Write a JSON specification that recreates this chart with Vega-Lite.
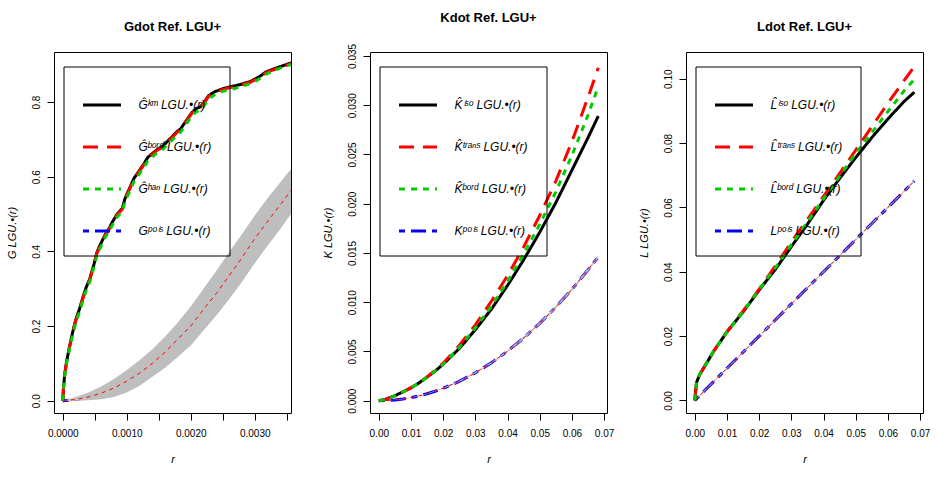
{
  "$schema": "https://vega.github.io/schema/vega-lite/v6.json",
  "padding": {"left": 5, "top": 11, "right": 5, "bottom": 5},
  "config": {
    "font": "Liberation Sans",
    "view": {"stroke": "#000000", "strokeWidth": 1},
    "axis": {"domain": false, "grid": false, "ticks": true, "tickSize": 7, "tickColor": "#000000", "tickWidth": 1,
      "labelFont": "Liberation Sans", "labelFontSize": 10, "labelColor": "#000000", "labelOverlap": false, "labelBound": false, "labelFlush": false,
      "titleFont": "Liberation Sans", "titleFontSize": 11, "titleFontWeight": "normal", "titleFontStyle": "italic", "titleColor": "#000000"},
    "axisX": {"labelPadding": 8, "titlePadding": 15, "labelAngle": 0},
    "axisY": {"labelAngle": -90, "labelAlign": "center", "labelBaseline": "bottom", "labelPadding": 6, "titlePadding": 14},
    "title": {"fontSize": 13, "fontWeight": "bold", "font": "Liberation Sans", "offset": 18, "anchor": "middle", "color": "#000000"},
    "legend": {"strokeColor": "#000000", "strokeWidth": 1, "padding": 18, "symbolType": "stroke", "symbolSize": 1444, "symbolStrokeWidth": 3,
      "rowPadding": 15, "labelOffset": 16, "labelFont": "Liberation Sans", "labelFontSize": 12, "labelFontStyle": "italic", "labelColor": "#000000", "labelLimit": 300, "symbolOpacity": 1, "cornerRadius": 0}
  },
  "datasets": {
    "g_obs": [
      {"r": 0, "km": 0, "bord": 0, "han": 0},
      {"r": 0.00001, "km": 0.03, "bord": 0.03, "han": 0.028},
      {"r": 0.00003, "km": 0.07, "bord": 0.069, "han": 0.066},
      {"r": 0.00006, "km": 0.105, "bord": 0.104, "han": 0.1},
      {"r": 0.0001, "km": 0.14, "bord": 0.139, "han": 0.134},
      {"r": 0.00015, "km": 0.18, "bord": 0.179, "han": 0.173},
      {"r": 0.0002, "km": 0.215, "bord": 0.213, "han": 0.207},
      {"r": 0.00026, "km": 0.245, "bord": 0.243, "han": 0.237},
      {"r": 0.00033, "km": 0.285, "bord": 0.283, "han": 0.277},
      {"r": 0.00038, "km": 0.31, "bord": 0.308, "han": 0.302},
      {"r": 0.00042, "km": 0.325, "bord": 0.323, "han": 0.317},
      {"r": 0.00049, "km": 0.367, "bord": 0.365, "han": 0.359},
      {"r": 0.00053, "km": 0.395, "bord": 0.393, "han": 0.387},
      {"r": 0.00057, "km": 0.412, "bord": 0.41, "han": 0.404},
      {"r": 0.00062, "km": 0.43, "bord": 0.428, "han": 0.422},
      {"r": 0.00067, "km": 0.447, "bord": 0.445, "han": 0.439},
      {"r": 0.00072, "km": 0.46, "bord": 0.458, "han": 0.452},
      {"r": 0.00078, "km": 0.48, "bord": 0.478, "han": 0.472},
      {"r": 0.00085, "km": 0.5, "bord": 0.498, "han": 0.492},
      {"r": 0.00093, "km": 0.515, "bord": 0.513, "han": 0.507},
      {"r": 0.00097, "km": 0.54, "bord": 0.538, "han": 0.531},
      {"r": 0.00101, "km": 0.556, "bord": 0.554, "han": 0.547},
      {"r": 0.00106, "km": 0.575, "bord": 0.573, "han": 0.566},
      {"r": 0.00111, "km": 0.595, "bord": 0.593, "han": 0.586},
      {"r": 0.00118, "km": 0.612, "bord": 0.61, "han": 0.603},
      {"r": 0.00127, "km": 0.635, "bord": 0.633, "han": 0.626},
      {"r": 0.00133, "km": 0.652, "bord": 0.65, "han": 0.643},
      {"r": 0.0014, "km": 0.662, "bord": 0.66, "han": 0.653},
      {"r": 0.00147, "km": 0.672, "bord": 0.67, "han": 0.663},
      {"r": 0.00155, "km": 0.68, "bord": 0.678, "han": 0.671},
      {"r": 0.00162, "km": 0.692, "bord": 0.69, "han": 0.683},
      {"r": 0.00171, "km": 0.707, "bord": 0.705, "han": 0.698},
      {"r": 0.00178, "km": 0.72, "bord": 0.718, "han": 0.711},
      {"r": 0.00184, "km": 0.728, "bord": 0.726, "han": 0.719},
      {"r": 0.00193, "km": 0.75, "bord": 0.748, "han": 0.741},
      {"r": 0.00202, "km": 0.772, "bord": 0.77, "han": 0.763},
      {"r": 0.00208, "km": 0.782, "bord": 0.78, "han": 0.773},
      {"r": 0.00215, "km": 0.787, "bord": 0.785, "han": 0.778},
      {"r": 0.0022, "km": 0.797, "bord": 0.795, "han": 0.788},
      {"r": 0.00228, "km": 0.817, "bord": 0.815, "han": 0.808},
      {"r": 0.00238, "km": 0.828, "bord": 0.826, "han": 0.82},
      {"r": 0.00249, "km": 0.835, "bord": 0.833, "han": 0.828},
      {"r": 0.0026, "km": 0.84, "bord": 0.838, "han": 0.833},
      {"r": 0.0027, "km": 0.844, "bord": 0.842, "han": 0.837},
      {"r": 0.00278, "km": 0.847, "bord": 0.845, "han": 0.841},
      {"r": 0.00285, "km": 0.851, "bord": 0.849, "han": 0.845},
      {"r": 0.00293, "km": 0.855, "bord": 0.853, "han": 0.849},
      {"r": 0.00301, "km": 0.862, "bord": 0.86, "han": 0.856},
      {"r": 0.00309, "km": 0.87, "bord": 0.868, "han": 0.864},
      {"r": 0.00317, "km": 0.88, "bord": 0.878, "han": 0.874},
      {"r": 0.00327, "km": 0.887, "bord": 0.885, "han": 0.882},
      {"r": 0.00337, "km": 0.893, "bord": 0.891, "han": 0.889},
      {"r": 0.00347, "km": 0.899, "bord": 0.897, "han": 0.895},
      {"r": 0.00357, "km": 0.905, "bord": 0.903, "han": 0.901}
    ],
    "g_env": [
      {"r": 0, "lo": 0, "hi": 0, "mmean": 0, "pois": 0},
      {"r": 0.0002, "lo": 0, "hi": 0.01, "mmean": 0.003, "pois": 0.003},
      {"r": 0.0004, "lo": 0.001, "hi": 0.022, "mmean": 0.01, "pois": 0.01},
      {"r": 0.0006, "lo": 0.004, "hi": 0.038, "mmean": 0.02, "pois": 0.02},
      {"r": 0.0008, "lo": 0.01, "hi": 0.058, "mmean": 0.034, "pois": 0.034},
      {"r": 0.001, "lo": 0.022, "hi": 0.082, "mmean": 0.052, "pois": 0.052},
      {"r": 0.0012, "lo": 0.04, "hi": 0.108, "mmean": 0.074, "pois": 0.074},
      {"r": 0.0014, "lo": 0.064, "hi": 0.138, "mmean": 0.1, "pois": 0.1},
      {"r": 0.0016, "lo": 0.088, "hi": 0.172, "mmean": 0.13, "pois": 0.13},
      {"r": 0.0018, "lo": 0.118, "hi": 0.21, "mmean": 0.165, "pois": 0.165},
      {"r": 0.002, "lo": 0.148, "hi": 0.252, "mmean": 0.2, "pois": 0.2},
      {"r": 0.0022, "lo": 0.188, "hi": 0.3, "mmean": 0.245, "pois": 0.245},
      {"r": 0.0024, "lo": 0.228, "hi": 0.348, "mmean": 0.287, "pois": 0.287},
      {"r": 0.0026, "lo": 0.272, "hi": 0.398, "mmean": 0.335, "pois": 0.335},
      {"r": 0.0028, "lo": 0.318, "hi": 0.446, "mmean": 0.383, "pois": 0.383},
      {"r": 0.003, "lo": 0.368, "hi": 0.496, "mmean": 0.434, "pois": 0.434},
      {"r": 0.0032, "lo": 0.415, "hi": 0.542, "mmean": 0.48, "pois": 0.48},
      {"r": 0.0034, "lo": 0.46, "hi": 0.585, "mmean": 0.525, "pois": 0.525},
      {"r": 0.0036, "lo": 0.508, "hi": 0.628, "mmean": 0.57, "pois": 0.57}
    ],
    "k_all": [
      {"r": 0, "iso": 0, "trans": 0, "bord": 0, "pois": 0, "lo": 0, "hi": 0, "mmean": 0},
      {"r": 0.002, "iso": 0.00012, "trans": 0.00012, "bord": 0.00012, "pois": 0.0000126, "lo": 0.000008, "hi": 0.000017, "mmean": 0.0000126},
      {"r": 0.005, "iso": 0.0005, "trans": 0.0005, "bord": 0.0005, "pois": 0.0000785, "lo": 0.00006, "hi": 0.0001, "mmean": 0.0000785},
      {"r": 0.0075, "iso": 0.0009, "trans": 0.0009, "bord": 0.0009, "pois": 0.000177, "lo": 0.00015, "hi": 0.0002, "mmean": 0.000177},
      {"r": 0.01, "iso": 0.0013, "trans": 0.0013, "bord": 0.0013, "pois": 0.000314, "lo": 0.00029, "hi": 0.00034, "mmean": 0.000314},
      {"r": 0.0125, "iso": 0.0018, "trans": 0.0018, "bord": 0.0018, "pois": 0.000491, "lo": 0.000465, "hi": 0.00052, "mmean": 0.000491},
      {"r": 0.015, "iso": 0.0024, "trans": 0.0024, "bord": 0.0024, "pois": 0.000707, "lo": 0.00068, "hi": 0.00074, "mmean": 0.000707},
      {"r": 0.0175, "iso": 0.003, "trans": 0.0031, "bord": 0.003, "pois": 0.000962, "lo": 0.00093, "hi": 0.001, "mmean": 0.000962},
      {"r": 0.02, "iso": 0.0037, "trans": 0.0038, "bord": 0.0037, "pois": 0.00126, "lo": 0.00121, "hi": 0.00131, "mmean": 0.00126},
      {"r": 0.025, "iso": 0.0053, "trans": 0.0056, "bord": 0.0054, "pois": 0.00196, "lo": 0.0019, "hi": 0.00203, "mmean": 0.00196},
      {"r": 0.03, "iso": 0.0072, "trans": 0.0077, "bord": 0.0074, "pois": 0.00283, "lo": 0.00276, "hi": 0.0029, "mmean": 0.00283},
      {"r": 0.035, "iso": 0.0093, "trans": 0.0101, "bord": 0.0096, "pois": 0.00385, "lo": 0.00377, "hi": 0.00394, "mmean": 0.00385},
      {"r": 0.04, "iso": 0.0117, "trans": 0.0127, "bord": 0.0121, "pois": 0.00503, "lo": 0.00494, "hi": 0.00512, "mmean": 0.00503},
      {"r": 0.045, "iso": 0.0143, "trans": 0.0156, "bord": 0.0149, "pois": 0.00636, "lo": 0.00625, "hi": 0.00648, "mmean": 0.00636},
      {"r": 0.05, "iso": 0.0171, "trans": 0.0188, "bord": 0.0179, "pois": 0.00785, "lo": 0.00774, "hi": 0.00796, "mmean": 0.00785},
      {"r": 0.055, "iso": 0.0201, "trans": 0.0223, "bord": 0.0212, "pois": 0.0095, "lo": 0.00937, "hi": 0.00963, "mmean": 0.0095},
      {"r": 0.06, "iso": 0.0234, "trans": 0.0263, "bord": 0.0249, "pois": 0.0113, "lo": 0.01117, "hi": 0.01143, "mmean": 0.0113},
      {"r": 0.065, "iso": 0.0267, "trans": 0.0308, "bord": 0.029, "pois": 0.0133, "lo": 0.01315, "hi": 0.01345, "mmean": 0.0133},
      {"r": 0.0682, "iso": 0.0289, "trans": 0.0338, "bord": 0.0319, "pois": 0.0146, "lo": 0.01445, "hi": 0.01475, "mmean": 0.0146}
    ],
    "l_all": [
      {"r": 0, "iso": 0, "trans": 0, "bord": 0, "pois": 0, "lo": 0, "hi": 0, "mmean": 0},
      {"r": 0.0005, "iso": 0.0055, "trans": 0.0055, "bord": 0.0055, "pois": 0.0005, "lo": 0.0004, "hi": 0.0006, "mmean": 0.0005},
      {"r": 0.0015, "iso": 0.008, "trans": 0.008, "bord": 0.008, "pois": 0.0015, "lo": 0.0013, "hi": 0.0017, "mmean": 0.0015},
      {"r": 0.003, "iso": 0.0105, "trans": 0.0105, "bord": 0.0105, "pois": 0.003, "lo": 0.0028, "hi": 0.0032, "mmean": 0.003},
      {"r": 0.006, "iso": 0.0155, "trans": 0.0155, "bord": 0.0155, "pois": 0.006, "lo": 0.0058, "hi": 0.0062, "mmean": 0.006},
      {"r": 0.01, "iso": 0.0213, "trans": 0.0214, "bord": 0.0213, "pois": 0.01, "lo": 0.0098, "hi": 0.0102, "mmean": 0.01},
      {"r": 0.015, "iso": 0.0275, "trans": 0.0278, "bord": 0.0276, "pois": 0.015, "lo": 0.0148, "hi": 0.0152, "mmean": 0.015},
      {"r": 0.02, "iso": 0.0343, "trans": 0.0346, "bord": 0.0345, "pois": 0.02, "lo": 0.0198, "hi": 0.0202, "mmean": 0.02},
      {"r": 0.025, "iso": 0.0407, "trans": 0.0418, "bord": 0.0412, "pois": 0.025, "lo": 0.0248, "hi": 0.0252, "mmean": 0.025},
      {"r": 0.03, "iso": 0.0478, "trans": 0.0492, "bord": 0.0484, "pois": 0.03, "lo": 0.0298, "hi": 0.0302, "mmean": 0.03},
      {"r": 0.035, "iso": 0.0548, "trans": 0.0563, "bord": 0.0555, "pois": 0.035, "lo": 0.0348, "hi": 0.0352, "mmean": 0.035},
      {"r": 0.04, "iso": 0.0622, "trans": 0.0634, "bord": 0.0627, "pois": 0.04, "lo": 0.0398, "hi": 0.0402, "mmean": 0.04},
      {"r": 0.045, "iso": 0.069, "trans": 0.0706, "bord": 0.0697, "pois": 0.045, "lo": 0.0448, "hi": 0.0452, "mmean": 0.045},
      {"r": 0.05, "iso": 0.0755, "trans": 0.0778, "bord": 0.0768, "pois": 0.05, "lo": 0.0498, "hi": 0.0502, "mmean": 0.05},
      {"r": 0.055, "iso": 0.0817, "trans": 0.0851, "bord": 0.0833, "pois": 0.055, "lo": 0.0548, "hi": 0.0552, "mmean": 0.055},
      {"r": 0.06, "iso": 0.0875, "trans": 0.0924, "bord": 0.0898, "pois": 0.06, "lo": 0.0598, "hi": 0.0602, "mmean": 0.06},
      {"r": 0.065, "iso": 0.0929, "trans": 0.0994, "bord": 0.0962, "pois": 0.065, "lo": 0.0648, "hi": 0.0652, "mmean": 0.065},
      {"r": 0.0682, "iso": 0.0958, "trans": 0.1038, "bord": 0.0998, "pois": 0.0682, "lo": 0.068, "hi": 0.0684, "mmean": 0.0682}
    ]
  },
  "spacing": 79,
  "bounds": "flush",
  "resolve": {"scale": {"x": "independent", "y": "independent", "color": "independent", "strokeDash": "independent"}, "legend": {"color": "independent", "strokeDash": "independent"}},
  "hconcat": [
    {
      "title": "Gdot Ref. LGU+",
      "width": 237,
      "height": 361,
      "encoding": {
        "x": {"field": "r", "type": "quantitative", "scale": {"domain": [-0.000137, 0.003567], "nice": false, "zero": false},
          "axis": {"title": "r", "values": [0, 0.0005, 0.001, 0.0015, 0.002, 0.0025, 0.003, 0.0035], "labelExpr": "abs(datum.value*1000 - round(datum.value*1000)) < 0.001 ? format(datum.value, '.4f') : ''"}},
        "y": {"field": "v", "type": "quantitative", "scale": {"domain": [-0.033, 0.934], "nice": false, "zero": false},
          "axis": {"title": "G LGU.•(r)", "values": [0, 0.2, 0.4, 0.6, 0.8], "format": ".1f"}}
      },
      "layer": [
        {"data": {"name": "g_env"}, "transform": [{"fold": ["pois"], "as": ["s", "v"]}],
          "mark": {"type": "line", "strokeWidth": 3, "clip": true},
          "encoding": {
            "color": {"field": "s", "type": "nominal", "scale": {"domain": ["km", "bord", "han", "pois"], "range": ["#000000", "#FF0000", "#00CD00", "#0000FF"]},
              "legend": {"title": null, "orient": "none", "legendX": 9.5, "legendY": 14.5, "labelExpr": "datum.value == 'km' ? 'Ĝᵏᵐ LGU.•(r)' : datum.value == 'bord' ? 'Ĝᵇᵒʳᵈ LGU.•(r)' : datum.value == 'han' ? 'Ĝʰᵃⁿ LGU.•(r)' : 'Gᵖᵒⁱˢ LGU.•(r)'"}},
            "strokeDash": {"field": "s", "type": "nominal", "scale": {"domain": ["km", "bord", "han", "pois"], "range": [[1, 0], [15, 9], [6, 6], [6, 6, 15, 6]]},
              "legend": {"title": null, "orient": "none", "legendX": 9.5, "legendY": 14.5, "labelExpr": "datum.value == 'km' ? 'Ĝᵏᵐ LGU.•(r)' : datum.value == 'bord' ? 'Ĝᵇᵒʳᵈ LGU.•(r)' : datum.value == 'han' ? 'Ĝʰᵃⁿ LGU.•(r)' : 'Gᵖᵒⁱˢ LGU.•(r)'"}}
          }},
        {"data": {"name": "g_env"}, "mark": {"type": "area", "color": "#BEBEBE", "opacity": 1, "clip": true},
          "encoding": {"y": {"field": "lo", "type": "quantitative", "scale": {"domain": [-0.033, 0.934], "nice": false, "zero": false}, "axis": {"title": "G LGU.•(r)", "values": [0, 0.2, 0.4, 0.6, 0.8], "format": ".1f"}}, "y2": {"field": "hi"}}},
        {"data": {"name": "g_env"}, "mark": {"type": "line", "color": "#FF0000", "strokeWidth": 1, "strokeDash": [4, 4], "clip": true},
          "encoding": {"y": {"field": "mmean", "type": "quantitative", "scale": {"domain": [-0.033, 0.934], "nice": false, "zero": false}, "axis": {"title": "G LGU.•(r)", "values": [0, 0.2, 0.4, 0.6, 0.8], "format": ".1f"}}}},
        {"data": {"name": "g_obs"}, "transform": [{"fold": ["km"], "as": ["s", "v"]}],
          "mark": {"type": "line", "strokeWidth": 3, "clip": true},
          "encoding": {
            "color": {"field": "s", "type": "nominal", "scale": {"domain": ["km", "bord", "han", "pois"], "range": ["#000000", "#FF0000", "#00CD00", "#0000FF"]}},
            "strokeDash": {"field": "s", "type": "nominal", "scale": {"domain": ["km", "bord", "han", "pois"], "range": [[1, 0], [15, 9], [6, 6], [6, 6, 15, 6]]}}
          }},
        {"data": {"name": "g_obs"}, "transform": [{"fold": ["bord"], "as": ["s", "v"]}],
          "mark": {"type": "line", "strokeWidth": 3, "clip": true},
          "encoding": {
            "color": {"field": "s", "type": "nominal", "scale": {"domain": ["km", "bord", "han", "pois"], "range": ["#000000", "#FF0000", "#00CD00", "#0000FF"]}},
            "strokeDash": {"field": "s", "type": "nominal", "scale": {"domain": ["km", "bord", "han", "pois"], "range": [[1, 0], [15, 9], [6, 6], [6, 6, 15, 6]]}}
          }},
        {"data": {"name": "g_obs"}, "transform": [{"fold": ["han"], "as": ["s", "v"]}],
          "mark": {"type": "line", "strokeWidth": 3, "clip": true},
          "encoding": {
            "color": {"field": "s", "type": "nominal", "scale": {"domain": ["km", "bord", "han", "pois"], "range": ["#000000", "#FF0000", "#00CD00", "#0000FF"]}},
            "strokeDash": {"field": "s", "type": "nominal", "scale": {"domain": ["km", "bord", "han", "pois"], "range": [[1, 0], [15, 9], [6, 6], [6, 6, 15, 6]]}}
          }}
      ]
    },
    {
      "title": "Kdot Ref. LGU+",
      "width": 237,
      "height": 361,
      "data": {"name": "k_all"},
      "encoding": {
        "x": {"field": "r", "type": "quantitative", "scale": {"domain": [-0.00273, 0.0709], "nice": false, "zero": false},
          "axis": {"title": "r", "values": [0, 0.01, 0.02, 0.03, 0.04, 0.05, 0.06, 0.07], "format": ".2f"}},
        "y": {"field": "v", "type": "quantitative", "scale": {"domain": [-0.00125, 0.0354], "nice": false, "zero": false},
          "axis": {"title": "K LGU.•(r)", "values": [0, 0.005, 0.01, 0.015, 0.02, 0.025, 0.03, 0.035], "format": ".3f"}}
      },
      "layer": [
        {"transform": [{"fold": ["pois"], "as": ["s", "v"]}],
          "mark": {"type": "line", "strokeWidth": 3, "clip": true},
          "encoding": {
            "color": {"field": "s", "type": "nominal", "scale": {"domain": ["iso", "trans", "bord", "pois"], "range": ["#000000", "#FF0000", "#00CD00", "#0000FF"]},
              "legend": {"title": null, "orient": "none", "legendX": 9.5, "legendY": 14.5, "labelExpr": "datum.value == 'iso' ? 'K̂ⁱˢᵒ LGU.•(r)' : datum.value == 'trans' ? 'K̂ᵗʳᵃⁿˢ LGU.•(r)' : datum.value == 'bord' ? 'K̂ᵇᵒʳᵈ LGU.•(r)' : 'Kᵖᵒⁱˢ LGU.•(r)'"}},
            "strokeDash": {"field": "s", "type": "nominal", "scale": {"domain": ["iso", "trans", "bord", "pois"], "range": [[1, 0], [15, 9], [6, 6], [6, 6, 15, 6]]},
              "legend": {"title": null, "orient": "none", "legendX": 9.5, "legendY": 14.5, "labelExpr": "datum.value == 'iso' ? 'K̂ⁱˢᵒ LGU.•(r)' : datum.value == 'trans' ? 'K̂ᵗʳᵃⁿˢ LGU.•(r)' : datum.value == 'bord' ? 'K̂ᵇᵒʳᵈ LGU.•(r)' : 'Kᵖᵒⁱˢ LGU.•(r)'"}}
          }},
        {"mark": {"type": "area", "color": "#BEBEBE", "opacity": 1, "clip": true},
          "encoding": {"y": {"field": "lo", "type": "quantitative", "scale": {"domain": [-0.00125, 0.0354], "nice": false, "zero": false}, "axis": {"title": "K LGU.•(r)", "values": [0, 0.005, 0.01, 0.015, 0.02, 0.025, 0.03, 0.035], "format": ".3f"}}, "y2": {"field": "hi"}}},
        {"mark": {"type": "line", "color": "#FF0000", "strokeWidth": 1, "strokeDash": [4, 4], "clip": true},
          "encoding": {"y": {"field": "mmean", "type": "quantitative", "scale": {"domain": [-0.00125, 0.0354], "nice": false, "zero": false}, "axis": {"title": "K LGU.•(r)", "values": [0, 0.005, 0.01, 0.015, 0.02, 0.025, 0.03, 0.035], "format": ".3f"}}}},
        {"transform": [{"fold": ["iso"], "as": ["s", "v"]}],
          "mark": {"type": "line", "strokeWidth": 3, "clip": true},
          "encoding": {
            "color": {"field": "s", "type": "nominal", "scale": {"domain": ["iso", "trans", "bord", "pois"], "range": ["#000000", "#FF0000", "#00CD00", "#0000FF"]}},
            "strokeDash": {"field": "s", "type": "nominal", "scale": {"domain": ["iso", "trans", "bord", "pois"], "range": [[1, 0], [15, 9], [6, 6], [6, 6, 15, 6]]}}
          }},
        {"transform": [{"fold": ["trans"], "as": ["s", "v"]}],
          "mark": {"type": "line", "strokeWidth": 3, "clip": true},
          "encoding": {
            "color": {"field": "s", "type": "nominal", "scale": {"domain": ["iso", "trans", "bord", "pois"], "range": ["#000000", "#FF0000", "#00CD00", "#0000FF"]}},
            "strokeDash": {"field": "s", "type": "nominal", "scale": {"domain": ["iso", "trans", "bord", "pois"], "range": [[1, 0], [15, 9], [6, 6], [6, 6, 15, 6]]}}
          }},
        {"transform": [{"fold": ["bord"], "as": ["s", "v"]}],
          "mark": {"type": "line", "strokeWidth": 3, "clip": true},
          "encoding": {
            "color": {"field": "s", "type": "nominal", "scale": {"domain": ["iso", "trans", "bord", "pois"], "range": ["#000000", "#FF0000", "#00CD00", "#0000FF"]}},
            "strokeDash": {"field": "s", "type": "nominal", "scale": {"domain": ["iso", "trans", "bord", "pois"], "range": [[1, 0], [15, 9], [6, 6], [6, 6, 15, 6]]}}
          }}
      ]
    },
    {
      "title": "Ldot Ref. LGU+",
      "width": 237,
      "height": 361,
      "data": {"name": "l_all"},
      "encoding": {
        "x": {"field": "r", "type": "quantitative", "scale": {"domain": [-0.00273, 0.0709], "nice": false, "zero": false},
          "axis": {"title": "r", "values": [0, 0.01, 0.02, 0.03, 0.04, 0.05, 0.06, 0.07], "format": ".2f"}},
        "y": {"field": "v", "type": "quantitative", "scale": {"domain": [-0.0039, 0.1083], "nice": false, "zero": false},
          "axis": {"title": "L LGU.•(r)", "values": [0, 0.02, 0.04, 0.06, 0.08, 0.1], "format": ".2f"}}
      },
      "layer": [
        {"transform": [{"fold": ["pois"], "as": ["s", "v"]}],
          "mark": {"type": "line", "strokeWidth": 3, "clip": true},
          "encoding": {
            "color": {"field": "s", "type": "nominal", "scale": {"domain": ["iso", "trans", "bord", "pois"], "range": ["#000000", "#FF0000", "#00CD00", "#0000FF"]},
              "legend": {"title": null, "orient": "none", "legendX": 9.5, "legendY": 14.5, "labelExpr": "datum.value == 'iso' ? 'L̂ⁱˢᵒ LGU.•(r)' : datum.value == 'trans' ? 'L̂ᵗʳᵃⁿˢ LGU.•(r)' : datum.value == 'bord' ? 'L̂ᵇᵒʳᵈ LGU.•(r)' : 'Lᵖᵒⁱˢ LGU.•(r)'"}},
            "strokeDash": {"field": "s", "type": "nominal", "scale": {"domain": ["iso", "trans", "bord", "pois"], "range": [[1, 0], [15, 9], [6, 6], [6, 6, 15, 6]]},
              "legend": {"title": null, "orient": "none", "legendX": 9.5, "legendY": 14.5, "labelExpr": "datum.value == 'iso' ? 'L̂ⁱˢᵒ LGU.•(r)' : datum.value == 'trans' ? 'L̂ᵗʳᵃⁿˢ LGU.•(r)' : datum.value == 'bord' ? 'L̂ᵇᵒʳᵈ LGU.•(r)' : 'Lᵖᵒⁱˢ LGU.•(r)'"}}
          }},
        {"mark": {"type": "area", "color": "#BEBEBE", "opacity": 1, "clip": true},
          "encoding": {"y": {"field": "lo", "type": "quantitative", "scale": {"domain": [-0.0039, 0.1083], "nice": false, "zero": false}, "axis": {"title": "L LGU.•(r)", "values": [0, 0.02, 0.04, 0.06, 0.08, 0.1], "format": ".2f"}}, "y2": {"field": "hi"}}},
        {"mark": {"type": "line", "color": "#FF0000", "strokeWidth": 1, "strokeDash": [4, 4], "clip": true},
          "encoding": {"y": {"field": "mmean", "type": "quantitative", "scale": {"domain": [-0.0039, 0.1083], "nice": false, "zero": false}, "axis": {"title": "L LGU.•(r)", "values": [0, 0.02, 0.04, 0.06, 0.08, 0.1], "format": ".2f"}}}},
        {"transform": [{"fold": ["iso"], "as": ["s", "v"]}],
          "mark": {"type": "line", "strokeWidth": 3, "clip": true},
          "encoding": {
            "color": {"field": "s", "type": "nominal", "scale": {"domain": ["iso", "trans", "bord", "pois"], "range": ["#000000", "#FF0000", "#00CD00", "#0000FF"]}},
            "strokeDash": {"field": "s", "type": "nominal", "scale": {"domain": ["iso", "trans", "bord", "pois"], "range": [[1, 0], [15, 9], [6, 6], [6, 6, 15, 6]]}}
          }},
        {"transform": [{"fold": ["trans"], "as": ["s", "v"]}],
          "mark": {"type": "line", "strokeWidth": 3, "clip": true},
          "encoding": {
            "color": {"field": "s", "type": "nominal", "scale": {"domain": ["iso", "trans", "bord", "pois"], "range": ["#000000", "#FF0000", "#00CD00", "#0000FF"]}},
            "strokeDash": {"field": "s", "type": "nominal", "scale": {"domain": ["iso", "trans", "bord", "pois"], "range": [[1, 0], [15, 9], [6, 6], [6, 6, 15, 6]]}}
          }},
        {"transform": [{"fold": ["bord"], "as": ["s", "v"]}],
          "mark": {"type": "line", "strokeWidth": 3, "clip": true},
          "encoding": {
            "color": {"field": "s", "type": "nominal", "scale": {"domain": ["iso", "trans", "bord", "pois"], "range": ["#000000", "#FF0000", "#00CD00", "#0000FF"]}},
            "strokeDash": {"field": "s", "type": "nominal", "scale": {"domain": ["iso", "trans", "bord", "pois"], "range": [[1, 0], [15, 9], [6, 6], [6, 6, 15, 6]]}}
          }}
      ]
    }
  ]
}
